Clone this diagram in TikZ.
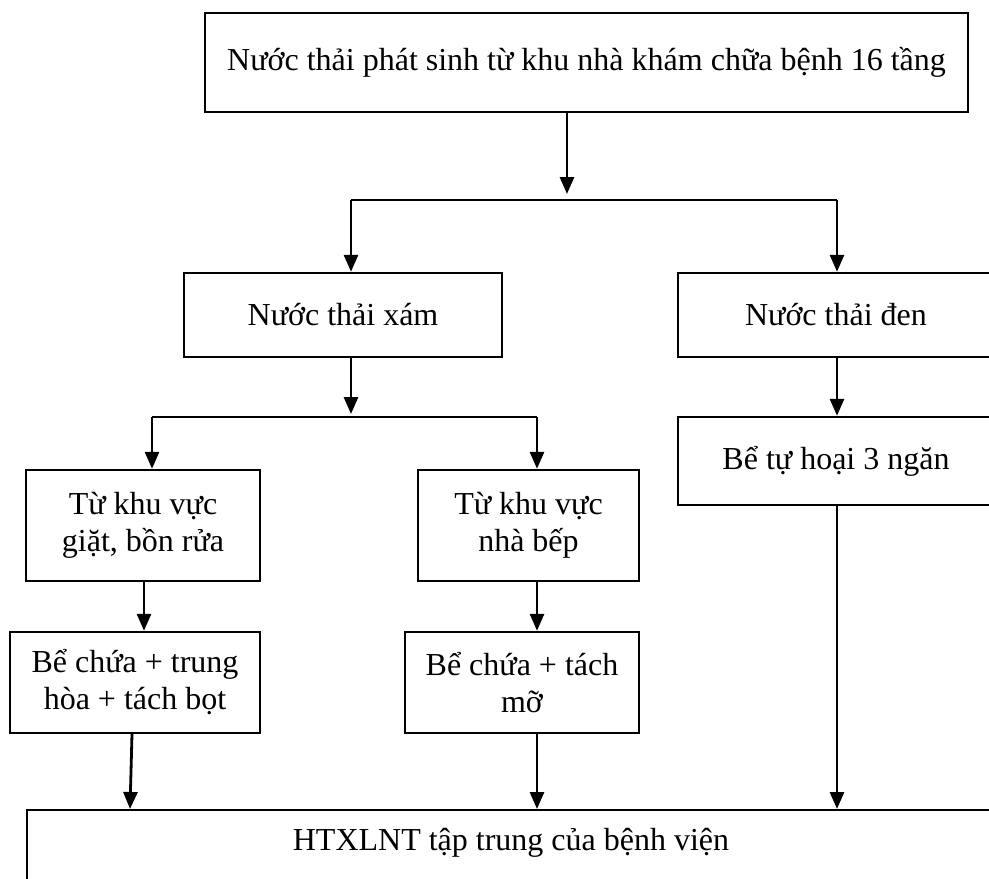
\documentclass[tikz,border=0pt]{standalone}
\usepackage{fontspec}
\setmainfont{Liberation Serif}
\usetikzlibrary{arrows.meta}
\begin{document}
\begin{tikzpicture}[x=1pt,y=-1pt,
    box/.style={draw,line width=2.4pt,inner sep=0pt,align=center,font=\fontsize{32}{37}\selectfont},
    arr/.style={line width=2.8pt,-{Triangle[length=17pt,width=14pt]}},
    lnk/.style={line width=2.8pt}]
    \clip (0,0) rectangle (989,879);
    \path
    (586.5,62.5) node[box,minimum width=763pt,minimum height=99pt] (src) {Nước thải phát sinh từ khu nhà khám chữa bệnh 16 tầng}
    (343,315) node[box,minimum width=318pt,minimum height=84pt] (xam) {Nước thải xám}
    (836,315) node[box,minimum width=316pt,minimum height=84pt] (den) {Nước thải đen}
    (143,525.5) node[box,minimum width=234pt,minimum height=111pt] (giat) {Từ khu vực\\giặt, bồn rửa}
    (528.5,525.5) node[box,minimum width=221pt,minimum height=111pt] (bep) {Từ khu vực\\nhà bếp}
    (836,461) node[box,minimum width=316pt,minimum height=88pt] (tuhoai) {Bể tự hoại 3 ngăn}
    (135,682.5) node[box,minimum width=250pt,minimum height=101pt] (trung) {Bể chứa + trung\\hòa + tách bọt}
    (522,682.5) node[box,minimum width=234pt,minimum height=101pt] (mo) {Bể chứa + tách\\mỡ}
    (511,809) node[box,anchor=north,minimum width=968pt,inner ysep=18pt,text height=22pt,text depth=40pt] (htx) {HTXLNT tập trung của bệnh viện}
    ;
    % junctions
    \path
    (567,200) coordinate (j1) (351,200) coordinate (j1l) (837,200) coordinate (j1r)
    (351,417) coordinate (j2) (152,417) coordinate (j2l) (537,417) coordinate (j2r)
    ;
    \draw[lnk] (j1l)--(j1r) (j2l)--(j2r);
    \draw[arr] (src.south -| j1)--([yshift=6pt]j1);
    \draw[arr] (xam.south -| j2)--([yshift=3pt]j2);
    \foreach \a/\b in {j1l/xam,j1r/den,j2l/giat,j2r/bep}\draw[arr] (\a)--(\a |- \b.north);
    \draw[arr] (den.south -| j1r)--(j1r |- tuhoai.north);
    \draw[arr] ([xshift=1pt]giat.south)--([xshift=1pt]giat.south |- trung.north);
    \draw[arr] (bep.south -| j2r)--(j2r |- mo.north);
    % into the plant
    \draw[arr] ([xshift=-3pt]trung.south)--(130,0 |- htx.north);
    \draw[arr] (mo.south -| j2r)--(j2r |- htx.north);
    \draw[arr] (tuhoai.south -| j1r)--(j1r |- htx.north);
\end{tikzpicture}
\end{document}
